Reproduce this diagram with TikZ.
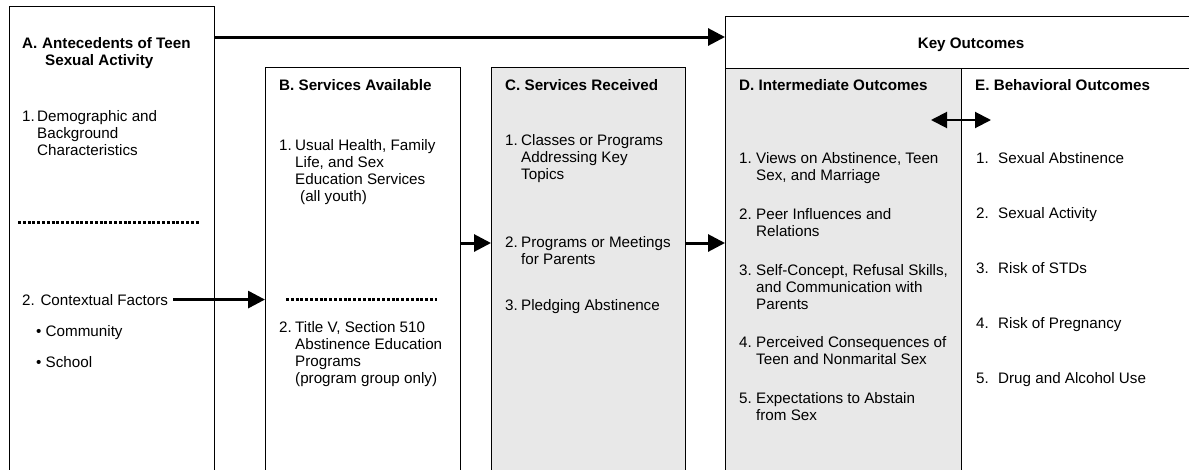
\documentclass[tikz,border=0pt]{standalone}
\usepackage{fontspec}
\setmainfont{Liberation Sans}
\usepackage{tikz}
\usetikzlibrary{arrows.meta}

\definecolor{boxgray}{RGB}{232,232,232}
\newcommand\numitem[3]{\begin{tabular}[t]{@{}p{#1}@{}l@{}}#2&\begin{tabular}[t]{@{}l@{}}#3\end{tabular}\end{tabular}}

\begin{document}
\begin{tikzpicture}[x=1pt, y=-1pt, font=\fontsize{15.2}{17}\selectfont,
    frame/.style={draw, line width=1.3pt, anchor=north west, inner sep=0pt},
    txt/.style={anchor=base west, inner sep=0pt},
    title/.style={txt, font=\fontsize{15.2}{17}\selectfont\bfseries},
    flow/.style={-{Triangle[length=17pt, width=17pt]}, line width=3pt},
    both/.style={{Triangle[length=16pt, width=16pt]}-{Triangle[length=16pt, width=16pt]}, line width=2pt},
    sep/.style={line width=3pt, dash pattern=on 3pt off 1.8pt}]
    \useasboundingbox (0,0) rectangle (1189,469);
    \clip (0,0) rectangle (1189,469);

    % columns
    \node[frame, minimum width=205pt, minimum height=480pt] (A) at (9,6) {};
    \node[frame, minimum width=195pt, minimum height=420pt] (B) at (265,67) {};
    \node[frame, fill=boxgray, minimum width=194pt, minimum height=420pt] (C) at (491,67) {};
    \node[frame, minimum width=500pt, minimum height=470pt] (K) at (725,16) {};
    \node[frame, fill=boxgray, minimum width=236pt, minimum height=420pt] (D) at (725,68) {};
    \node[frame, minimum width=300pt, minimum height=420pt] (E) at (961,68) {};

    % A
    \node[title] (At) at (22,48) {\numitem{20pt}{A.}{Antecedents of Teen\\\hspace{3pt}Sexual Activity}};
    \node[txt] (A1) at (22,121) {\numitem{15pt}{1.}{Demographic and\\Background\\Characteristics}};
    \draw[sep] (18,222) -- (200,222);
    \node[txt] (A2) at (22,305) {2. Contextual Factors};
    \node[txt] (A2a) at (36,336) {\textbullet\ Community};
    \node[txt] (A2b) at (36,367) {\textbullet\ School};

    % B
    \node[title] (Bt) at (279,90) {B. Services Available};
    \node[txt] (B1) at (279,150) {\numitem{16pt}{1.}{Usual Health, Family\\Life, and Sex\\Education Services\\\hspace{5pt}(all youth)}};
    \draw[sep] (286,299) -- (437,299);
    \node[txt] (B2) at (279,332) {\numitem{16pt}{2.}{Title V, Section 510\\Abstinence Education\\Programs\\(program group only)}};

    % C
    \node[title] (Ct) at (505,90) {C. Services Received};
    \node[txt] (C1) at (505,145) {\numitem{16pt}{1.}{Classes or Programs\\Addressing Key\\Topics}};
    \node[txt] (C2) at (505,247) {\numitem{16pt}{2.}{Programs or Meetings\\for Parents}};
    \node[txt] (C3) at (505,310) {\numitem{16pt}{3.}{Pledging Abstinence}};

    % key outcomes
    \node[title, anchor=base] (Kt) at (971,48) {Key Outcomes};
    \node[title] (Dt) at (739,90) {D. Intermediate Outcomes};
    \node[txt] (D1) at (739,163) {\numitem{17pt}{1.}{Views on Abstinence, Teen\\Sex, and Marriage}};
    \node[txt] (D2) at (739,219) {\numitem{17pt}{2.}{Peer Influences and\\Relations}};
    \node[txt] (D3) at (739,275) {\numitem{17pt}{3.}{Self-Concept, Refusal Skills,\\and Communication with\\Parents}};
    \node[txt] (D4) at (739,347) {\numitem{17pt}{4.}{Perceived Consequences of\\Teen and Nonmarital Sex}};
    \node[txt] (D5) at (739,403) {\numitem{17pt}{5.}{Expectations to Abstain\\from Sex}};

    \node[title] (Et) at (975,90) {E. Behavioral Outcomes};
    \node[txt] (E1) at (976,163) {\numitem{22pt}{1.}{Sexual Abstinence}};
    \node[txt] (E2) at (976,218) {\numitem{22pt}{2.}{Sexual Activity}};
    \node[txt] (E3) at (976,273) {\numitem{22pt}{3.}{Risk of STDs}};
    \node[txt] (E4) at (976,328) {\numitem{22pt}{4.}{Risk of Pregnancy}};
    \node[txt] (E5) at (976,383) {\numitem{22pt}{5.}{Drug and Alcohol Use}};

    % arrows
    \coordinate (topy) at (0,37);
    \coordinate (midy) at (0,243);
    \coordinate (DE1) at (931,120);
    \coordinate (DE2) at (991,120);
    \draw[flow] (A.east |- topy) -- (K.west |- topy);
    \draw[flow] ([xshift=5pt]A2.east) -- (B.west |- A2.east);
    \draw[flow] (B.east |- midy) -- (C.west |- midy);
    \draw[flow] (C.east |- midy) -- (D.west |- midy);
    \draw[both] (DE1) -- (DE2);
\end{tikzpicture}
\end{document}
